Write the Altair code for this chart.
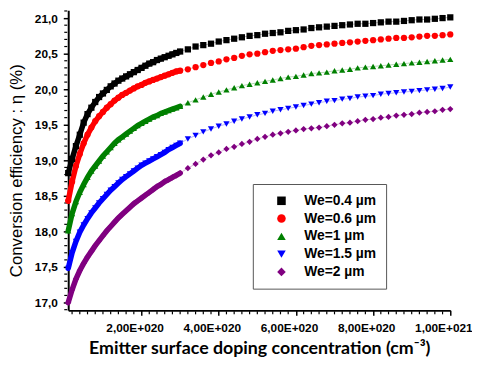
import altair as alt
import pandas as pd

# Emitter surface doping concentration, in units of 1e19 cm^-3
conc_e19 = [1, 2, 3, 4, 5, 6, 7, 8, 9, 10, 11, 12, 13, 14, 15, 16, 17, 18, 19, 20,
            21, 22, 23, 24, 25, 26, 27, 28, 29, 30,
            32, 34, 36, 38, 40, 42, 44, 46, 48, 50, 52, 54, 56, 58, 60, 62, 64, 66, 68, 70,
            72, 74, 76, 78, 80, 82, 84, 86, 88, 90, 92, 94, 96, 98, 100]

eta_04 = [18.82, 19.02, 19.20, 19.36, 19.53, 19.65, 19.74, 19.82, 19.89, 19.94,
          19.99, 20.04, 20.08, 20.12, 20.15, 20.18, 20.21, 20.24, 20.27, 20.30,
          20.33, 20.36, 20.38, 20.41, 20.43, 20.45, 20.47, 20.49, 20.51, 20.53,
          20.56, 20.60, 20.62, 20.64, 20.67, 20.69, 20.71, 20.73, 20.75, 20.76,
          20.78, 20.79, 20.80, 20.82, 20.83, 20.84, 20.86, 20.87, 20.88, 20.89,
          20.90, 20.91, 20.92, 20.92, 20.93, 20.94, 20.95, 20.95, 20.96, 20.97,
          20.98, 20.98, 20.99, 21.00, 21.01]

eta_06 = [18.43, 18.70, 18.92, 19.09, 19.24, 19.36, 19.46, 19.55, 19.62, 19.68,
          19.74, 19.79, 19.84, 19.88, 19.92, 19.95, 19.98, 20.01, 20.04, 20.06,
          20.09, 20.11, 20.13, 20.15, 20.17, 20.19, 20.21, 20.23, 20.25, 20.26,
          20.28, 20.31, 20.34, 20.37, 20.39, 20.42, 20.44, 20.47, 20.49, 20.50,
          20.52, 20.54, 20.55, 20.56, 20.57, 20.59, 20.61, 20.62, 20.63, 20.64,
          20.65, 20.66, 20.67, 20.68, 20.69, 20.70, 20.71, 20.72, 20.72, 20.73,
          20.74, 20.75, 20.75, 20.76, 20.77]

eta_1 = [18.01, 18.25, 18.42, 18.55, 18.66, 18.76, 18.85, 18.92, 18.99, 19.06,
         19.12, 19.18, 19.24, 19.29, 19.33, 19.37, 19.41, 19.45, 19.49, 19.52,
         19.55, 19.58, 19.61, 19.63, 19.66, 19.68, 19.70, 19.72, 19.74, 19.76,
         19.81, 19.85, 19.89, 19.93, 19.96, 19.99, 20.02, 20.05, 20.07, 20.09,
         20.11, 20.13, 20.15, 20.17, 20.18, 20.20, 20.22, 20.23, 20.24, 20.26,
         20.27, 20.28, 20.30, 20.31, 20.32, 20.33, 20.34, 20.35, 20.36, 20.37,
         20.38, 20.39, 20.40, 20.41, 20.42]

eta_15 = [17.48, 17.70, 17.86, 17.99, 18.09, 18.18, 18.26, 18.33, 18.40, 18.46,
          18.52, 18.58, 18.63, 18.68, 18.73, 18.77, 18.81, 18.85, 18.89, 18.93,
          18.96, 18.99, 19.02, 19.05, 19.08, 19.11, 19.15, 19.18, 19.21, 19.24,
          19.30, 19.35, 19.40, 19.44, 19.48, 19.51, 19.55, 19.58, 19.61, 19.64,
          19.66, 19.69, 19.71, 19.73, 19.75, 19.77, 19.79, 19.81, 19.83, 19.84,
          19.86, 19.87, 19.89, 19.90, 19.91, 19.93, 19.94, 19.95, 19.96, 19.97,
          19.98, 19.99, 20.00, 20.01, 20.03]

eta_2 = [17.00, 17.18, 17.33, 17.45, 17.55, 17.64, 17.72, 17.80, 17.87, 17.94,
         18.01, 18.07, 18.13, 18.19, 18.24, 18.29, 18.34, 18.39, 18.43, 18.47,
         18.51, 18.55, 18.59, 18.63, 18.66, 18.70, 18.73, 18.76, 18.79, 18.82,
         18.89, 18.95, 19.01, 19.07, 19.11, 19.16, 19.19, 19.23, 19.26, 19.30,
         19.33, 19.36, 19.38, 19.40, 19.42, 19.44, 19.45, 19.46, 19.48, 19.50,
         19.52, 19.53, 19.55, 19.57, 19.58, 19.60, 19.61, 19.63, 19.64, 19.65,
         19.67, 19.68, 19.69, 19.71, 19.72]

series_names = ["We=0.4 µm", "We=0.6 µm", "We=1 µm", "We=1.5 µm", "We=2 µm"]
series_colors = ["#000000", "#FF0000", "#008000", "#0000FF", "#800080"]
series_shapes = ["square", "circle", "triangle-up", "triangle-down", "diamond"]

x_major = [2e20, 4e20, 6e20, 8e20, 1e21]
y_major = [17.0, 17.5, 18.0, 18.5, 19.0, 19.5, 20.0, 20.5, 21.0]

rows = []
for name, vals in zip(series_names, [eta_04, eta_06, eta_1, eta_15, eta_2]):
    for c, v in zip(conc_e19, vals):
        rows.append({"series": name, "conc": c * 1e19, "eta": v})
df = pd.DataFrame(rows)

# minor tick positions (every 2e19 / every 0.1)
x_minor = pd.DataFrame({"conc": [2e19 * k for k in range(1, 51) if k % 10 != 0]})
y_minor = pd.DataFrame({"eta": [round(16.9 + 0.1 * k, 1) for k in range(0, 43) if k % 5 != 1]})

FONT = "Liberation Sans"
x_scale = alt.Scale(domain=[1e19, 1e21], nice=False, zero=False)
y_scale = alt.Scale(domain=[16.89, 21.11], nice=False, zero=False)
color_scale = alt.Scale(domain=series_names, range=series_colors)
shape_scale = alt.Scale(domain=series_names, range=series_shapes)

x_label_expr = ("replace(format(datum.value / pow(10, floor(log(datum.value)/LN10 + 1e-9)), '.2f'), '.', ',')"
                " + 'E+0' + floor(log(datum.value)/LN10 + 1e-9)")

x_axis = alt.Axis(orient="bottom", values=x_major, tickSize=5,
                  tickWidth=1.5, tickColor="black", domainColor="black",
                  domainWidth=2, grid=False, labelExpr=x_label_expr,
                  labelOverlap=False, labelFlush=False, labelFont=FONT,
                  labelFontSize=12, labelFontWeight="bold", labelColor="black",
                  labelPadding=7, labelOffset=-7,
                  title="Emitter surface doping concentration (cm⁻³)",
                  titleFont="Lato", titleFontSize=18, titleFontWeight="bold",
                  titleColor="black", titlePadding=7)
y_axis = alt.Axis(orient="left", values=y_major, tickSize=5,
                  tickWidth=1.5, tickColor="black", domainColor="black",
                  domainWidth=2, grid=False,
                  labelExpr="replace(format(datum.value, '.1f'), '.', ',')",
                  labelOverlap=False, labelFlush=False,
                  labelFont=FONT, labelFontSize=12, labelFontWeight="bold",
                  labelColor="black", labelPadding=6,
                  title="Conversion efficiency : η (%)",
                  titleFont=FONT, titleFontSize=17, titleFontWeight="normal",
                  titleColor="black", titlePadding=9, titleY=162)

X = alt.X("conc:Q", scale=x_scale, axis=x_axis)
Y = alt.Y("eta:Q", scale=y_scale, axis=y_axis)

layers = []

# minor ticks
layers.append(alt.Chart(x_minor).mark_rule(color="black", strokeWidth=1.2).encode(
    x=X, y=alt.value(305), y2=alt.value(308)))
layers.append(alt.Chart(y_minor).mark_rule(color="black", strokeWidth=1.2).encode(
    y=Y, x=alt.value(-1), x2=alt.value(-4)))

# thin connecting lines and, for the densely sampled part, the solid band of overlapping markers
for name, col in zip(series_names, series_colors):
    layers.append(alt.Chart(df).transform_filter(alt.datum.series == name).mark_line(
        color=col, strokeWidth=1, opacity=0.3).encode(x=X, y=Y))
    layers.append(alt.Chart(df).transform_filter(alt.datum.series == name).transform_filter(
        "datum.conc <= 3e20").mark_line(color=col, strokeWidth=5.5, strokeCap="round").encode(x=X, y=Y))

points = alt.Chart(df).mark_point(filled=True, size=40, opacity=1).encode(
    x=X, y=Y,
    color=alt.Color("series:N", scale=color_scale, title=None,
                    legend=alt.Legend(orient="none", legendX=187, legendY=176,
                                      strokeColor="#555555", fillColor="white",
                                      padding=10, rowPadding=4, symbolOffset=12,
                                      labelOffset=16, symbolSize=75,
                                      labelFont=FONT, labelFontSize=14,
                                      labelFontWeight="bold", labelColor="black")),
    shape=alt.Shape("series:N", scale=shape_scale, title=None),
)
layers.append(points)

chart = alt.layer(*layers).properties(
    width=387, height=304,
    autosize=alt.AutoSizeParams(type="none"),
    padding={"left": 61, "top": 0, "right": 22, "bottom": 50},
).configure_view(strokeWidth=0)

chart.save("out.html", embed_options={"renderer": "svg", "actions": False})
